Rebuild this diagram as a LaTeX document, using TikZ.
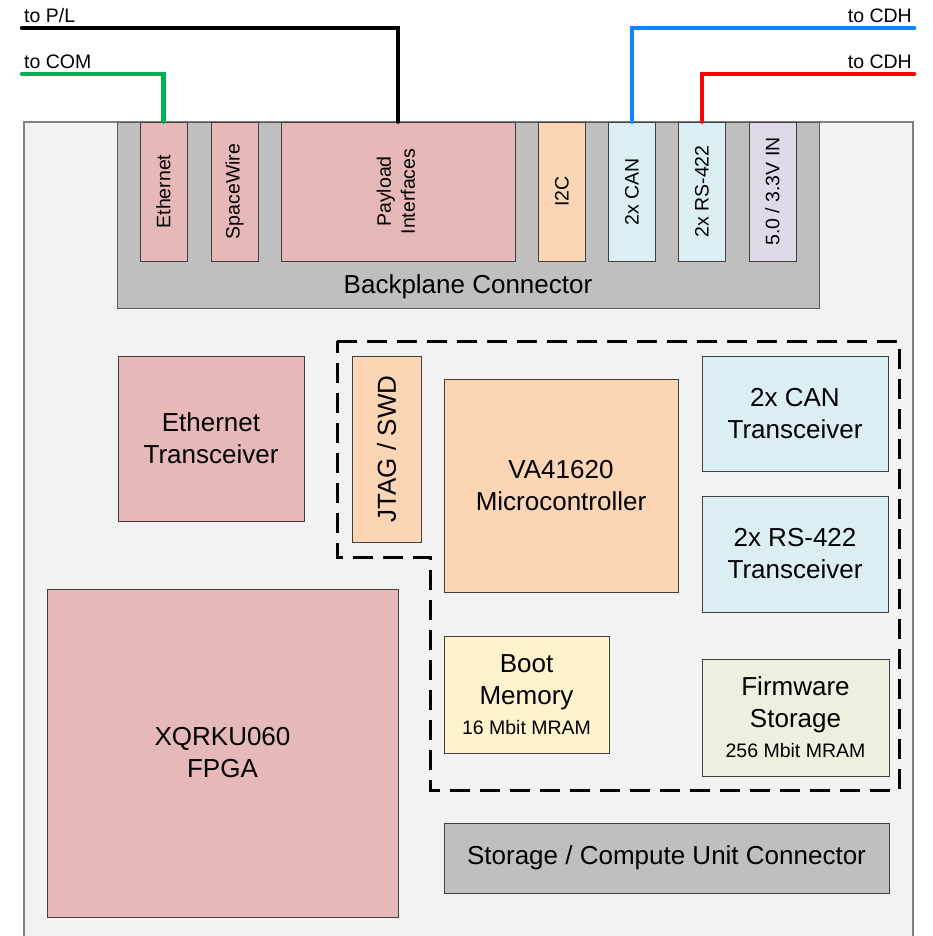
\documentclass[tikz,border=0pt]{standalone}
\usepackage{fontspec}
\setmainfont{Liberation Sans}
\usepackage{graphicx}
\definecolor{boardc}{HTML}{F2F2F2}
\definecolor{grayc}{HTML}{BFBFBF}
\definecolor{pinkc}{HTML}{E6B9B8}
\definecolor{peachc}{HTML}{FCD5B5}
\definecolor{bluec}{HTML}{DBEEF4}
\definecolor{lavc}{HTML}{E0DAE8}
\definecolor{yellowc}{HTML}{FFF2CC}
\definecolor{greenc}{HTML}{EBF1DE}
\definecolor{wblue}{HTML}{0A84FF}
\definecolor{wgreen}{HTML}{00B050}
\definecolor{wred}{HTML}{FF0000}
\newcommand\fbig{\fontsize{26}{32}\selectfont}
\newcommand\fsmall{\fontsize{19.5}{24}\selectfont}
\begin{document}
\begin{tikzpicture}[x=1pt,y=-1pt,
  blk/.style={draw=black!75, line width=0.8pt, inner sep=0pt, align=center, font=\fbig},
  slot/.style={blk, font=\fsmall, minimum width=47pt, minimum height=139pt},
  wire/.style={line width=4.5pt, line cap=round, line join=miter},
  lbl/.style={font=\fsmall, inner sep=0pt}]
\useasboundingbox (0,0) rectangle (932,936);
% board
\draw[draw=black!50, line width=1.2pt, fill=boardc] (24,122) rectangle (913,960);
% backplane connector
\node[draw=black!65, fill=grayc, line width=0.8pt, minimum width=702pt, minimum height=186pt, inner sep=0pt] (bp) at (468,215) {};
\node[font=\fbig, anchor=base, inner sep=0pt] (bptext) at (468,293) {Backplane Connector};
% slots
\node[slot, fill=pinkc] (eth) at (163.5,191.5) {\rotatebox{90}{Ethernet}};
\node[slot, fill=pinkc] (spw) at (234.5,191.5) {\rotatebox{90}{SpaceWire}};
\node[slot, fill=pinkc, minimum width=234pt] (pay) at (398,191.5) {\rotatebox{90}{\begin{tabular}{@{}c@{}}Payload\\Interfaces\end{tabular}}};
\node[slot, fill=peachc] (i2c) at (562,191.5) {\rotatebox{90}{I2C}};
\node[slot, fill=bluec] (can) at (632,191.5) {\rotatebox{90}{2x CAN}};
\node[slot, fill=bluec] (rs) at (702,191.5) {\rotatebox{90}{2x RS-422}};
\node[slot, fill=lavc] (pwr) at (772.5,191.5) {\rotatebox{90}{5.0 / 3.3V IN}};
% wires
\coordinate (plend) at (22,28);
\coordinate (comend) at (22,74);
\coordinate (cdh1end) at (914,28);
\coordinate (cdh2end) at (914,74);
\node[lbl, anchor=base west] (lpl) at (24,22.5) {to P/L};
\node[lbl, anchor=base west] (lcom) at (24,69) {to COM};
\node[lbl, anchor=base east] (lcdh1) at (912,22.5) {to CDH};
\node[lbl, anchor=base east] (lcdh2) at (912,69) {to CDH};
\draw[wire, black] (plend) -| (pay.north);
\draw[wire, wgreen] (comend) -| (eth.north);
\draw[wire, wblue] (cdh1end) -| (can.north);
\draw[wire, wred] (cdh2end) -| (rs.north);
% components
\node[blk, fill=pinkc, minimum width=186pt, minimum height=165pt] (ethtr) at (211,438.5) {Ethernet\\Transceiver};
\node[blk, fill=peachc, minimum width=69pt, minimum height=186pt] (jtag) at (386.5,449) {\rotatebox{90}{JTAG / SWD}};
\node[blk, fill=peachc, minimum width=234pt, minimum height=213pt] (mcu) at (561,485.5) {VA41620\\Microcontroller};
\node[blk, fill=bluec, minimum width=186pt, minimum height=115pt] (cantr) at (795,413.5) {2x CAN\\Transceiver};
\node[blk, fill=bluec, minimum width=186pt, minimum height=116pt] (rstr) at (795,554) {2x RS-422\\Transceiver};
\node[blk, fill=yellowc, minimum width=165pt, minimum height=117pt] (boot) at (526.5,694.5) {Boot\\Memory\\[-2pt]{\fsmall 16 Mbit MRAM}};
\node[blk, fill=greenc, minimum width=187pt, minimum height=117pt] (fw) at (795.5,717.5) {Firmware\\Storage\\[-2pt]{\fsmall 256 Mbit MRAM}};
\node[blk, fill=grayc, minimum width=445pt, minimum height=70pt] (scu) at (666.5,858) {Storage / Compute Unit Connector};
\node[blk, fill=pinkc, minimum width=351pt, minimum height=328pt] (fpga) at (222.5,753) {XQRKU060\\FPGA};
% dashed region
\draw[line width=3pt, dash pattern=on 20pt off 10pt] (337,341) -- (899,341) -- (899,790) -- (430,790) -- (430,557) -- (337,557) -- cycle;
\end{tikzpicture}
\end{document}
